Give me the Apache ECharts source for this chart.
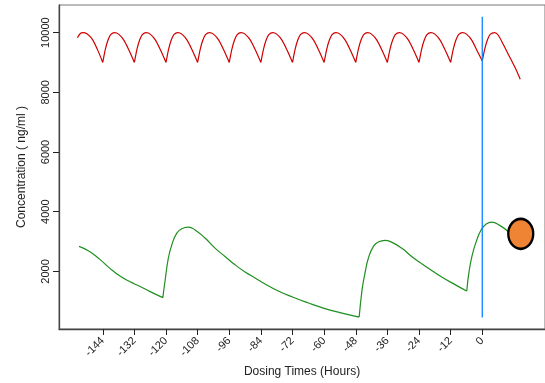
<!DOCTYPE html>
<html>
<head>
<meta charset="utf-8">
<script src="https://cdn.jsdelivr.net/npm/echarts@6/dist/echarts.min.js"></script>
<style>
  html, body { margin: 0; padding: 0; background: #fff; }
  #chart { width: 545px; height: 383px; }
</style>
</head>
<body>
<div id="chart"></div>
<script>
// tick labels
const xTicks = [-144, -132, -120, -108, -96, -84, -72, -60, -48, -36, -24, -12, 0];
const yTicks = [2000, 4000, 6000, 8000, 10000];

// red curve, one array per dosing interval (hour, ng/ml)
const redSegments = [
  [[-153.6, 9830], [-152.5, 9970], [-151.5, 10000], [-150, 9960], [-148, 9780], [-146, 9430], [-144, 9000]],
  [[-144, 9000], [-143, 9450], [-142, 9750], [-141, 9930], [-139.5, 10000], [-138, 9950], [-136, 9750], [-134, 9400], [-132, 9000]],
  [[-132, 9000], [-131, 9450], [-130, 9750], [-129, 9930], [-127.5, 10000], [-126, 9950], [-124, 9750], [-122, 9400], [-120, 9000]],
  [[-120, 9000], [-119, 9450], [-118, 9750], [-117, 9930], [-115.5, 10000], [-114, 9950], [-112, 9750], [-110, 9400], [-108, 9000]],
  [[-108, 9000], [-107, 9450], [-106, 9750], [-105, 9930], [-103.5, 10000], [-102, 9950], [-100, 9750], [-98, 9400], [-96, 9000]],
  [[-96, 9000], [-95, 9450], [-94, 9750], [-93, 9930], [-91.5, 10000], [-90, 9950], [-88, 9750], [-86, 9400], [-84, 9000]],
  [[-84, 9000], [-83, 9450], [-82, 9750], [-81, 9930], [-79.5, 10000], [-78, 9950], [-76, 9750], [-74, 9400], [-72, 9000]],
  [[-72, 9000], [-71, 9450], [-70, 9750], [-69, 9930], [-67.5, 10000], [-66, 9950], [-64, 9750], [-62, 9400], [-60, 9000]],
  [[-60, 9000], [-59, 9450], [-58, 9750], [-57, 9930], [-55.5, 10000], [-54, 9950], [-52, 9750], [-50, 9400], [-48, 9000]],
  [[-48, 9000], [-47, 9450], [-46, 9750], [-45, 9930], [-43.5, 10000], [-42, 9950], [-40, 9750], [-38, 9400], [-36, 9000]],
  [[-36, 9000], [-35, 9450], [-34, 9750], [-33, 9930], [-31.5, 10000], [-30, 9950], [-28, 9750], [-26, 9400], [-24, 9000]],
  [[-24, 9000], [-23, 9450], [-22, 9750], [-21, 9930], [-19.5, 10000], [-18, 9950], [-16, 9750], [-14, 9400], [-12, 9000]],
  [[-12, 9000], [-11, 9450], [-10, 9750], [-9, 9930], [-7.5, 10000], [-6, 9950], [-4, 9750], [-2, 9400], [0, 9050]],
  [[0, 9050], [1, 9470], [2, 9770], [3, 9940], [4.7, 10000], [6, 9920], [8, 9600], [10, 9250], [11, 9080], [12.5, 8820], [14.4, 8440]]
];

// green curve, one array per dosing interval
const greenSegments = [
  [[-153, 2840], [-149, 2670], [-145.2, 2410], [-141.4, 2110], [-137.6, 1850], [-133.8, 1660], [-130, 1500],
   [-126.2, 1330], [-121.2, 1120]],
  [[-121.2, 1120], [-120.4, 1660], [-119.1, 2450], [-117.8, 2890], [-115.9, 3280], [-114, 3430], [-111.5, 3480],
   [-109, 3390], [-105.2, 3120], [-101.4, 2780], [-97.6, 2500], [-93.8, 2220], [-90, 1980], [-86.2, 1780],
   [-82.4, 1580], [-78, 1370], [-72, 1140], [-66, 940], [-60.3, 770], [-54, 620], [-46.7, 470]],
  [[-46.7, 470], [-45.6, 1390], [-44.5, 1940], [-43.2, 2450], [-41.3, 2840], [-39.5, 2980], [-36.9, 3040],
   [-34.4, 2980], [-30.6, 2780], [-26.8, 2500], [-23, 2260], [-19.2, 2030], [-15.4, 1810], [-10, 1540], [-5.9, 1340]],
  [[-5.9, 1340], [-5.0, 2000], [-3.8, 2550], [-2.2, 3020], [-0.5, 3380], [1.5, 3590], [3.6, 3650],
   [6.5, 3550], [10, 3320]]
];

const doseLine = [[0, 459], [0, 10530]];
const lastObs = [[14.6, 3260]];

// segments joined with gaps so the dose cusps stay sharp
function joinSegments(segs) {
  const out = [];
  segs.forEach((s, i) => {
    if (i > 0) out.push(['-', '-']);
    s.forEach(p => out.push(p));
  });
  return out;
}

const font = 'Liberation Sans, Arial, sans-serif';
const chart = echarts.init(document.getElementById('chart'));

chart.setOption({
  animation: false,
  grid: {
    left: 59, top: 5, right: 0, bottom: 54,
    show: true, borderColor: '#777', borderWidth: 1
  },
  xAxis: {
    type: 'value',
    min: -160.6,
    max: 23.8,
    name: 'Dosing Times (Hours)',
    nameLocation: 'middle',
    nameGap: 37,
    nameTextStyle: { fontSize: 12, color: '#222', fontFamily: font },
    axisLine: { show: true, onZero: false, lineStyle: { color: '#444', width: 1.3 } },
    axisTick: { show: true, length: 6, customValues: xTicks, lineStyle: { color: '#222' } },
    axisLabel: {
      customValues: xTicks, rotate: 45, fontSize: 11, margin: 10, color: '#222', fontFamily: font,
      formatter: v => String(v)
    },
    splitLine: { show: false }
  },
  yAxis: {
    type: 'value',
    min: 70,
    max: 10925,
    name: 'Concentration ( ng/ml )',
    nameLocation: 'middle',
    nameGap: 31,
    nameTextStyle: { fontSize: 12, color: '#222', fontFamily: font },
    axisLine: { show: true, onZero: false, lineStyle: { color: '#444', width: 1.3 } },
    axisTick: { show: true, length: 6, customValues: yTicks, lineStyle: { color: '#222' } },
    axisLabel: {
      customValues: yTicks, rotate: 90, fontSize: 11, margin: 8, color: '#222', fontFamily: font,
      formatter: v => String(v)
    },
    splitLine: { show: false }
  },
  series: [
    {
      type: 'line',
      data: joinSegments(redSegments),
      smooth: 0.3,
      showSymbol: false,
      connectNulls: false,
      lineStyle: { color: '#cd0000', width: 1.2 }
    },
    {
      type: 'line',
      data: joinSegments(greenSegments),
      smooth: 0.5,
      showSymbol: false,
      connectNulls: false,
      lineStyle: { color: '#1f8f1f', width: 1.2 }
    },
    {
      type: 'line',
      data: doseLine,
      showSymbol: false,
      lineStyle: { color: '#0a84ff', width: 1.3 }
    },
    {
      type: 'scatter',
      data: lastObs,
      symbol: 'path://M0,50 A50,50 0 1,1 100,50 A50,50 0 1,1 0,50 Z',
      symbolSize: [25, 30],
      itemStyle: { color: '#ee8434', borderColor: '#000', borderWidth: 2.5, opacity: 1 },
      z: 5
    }
  ]
});
</script>
</body>
</html>
